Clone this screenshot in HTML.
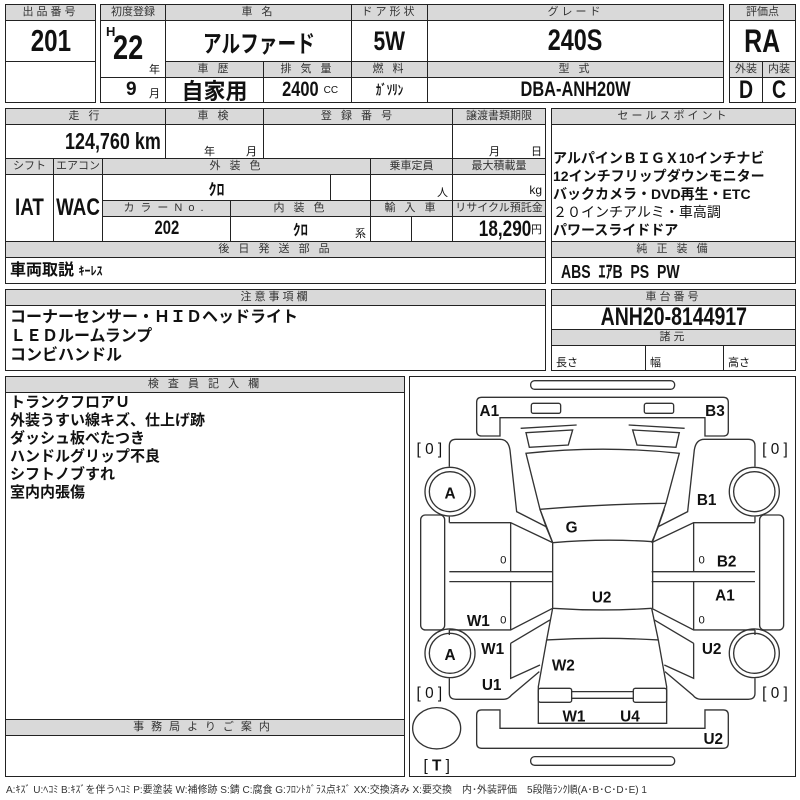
<!DOCTYPE html>
<html><head><meta charset="utf-8"><style>
body{margin:0;width:800px;height:800px;background:#fff;position:relative;overflow:hidden;font-family:"Liberation Sans","Noto Sans CJK JP",sans-serif;color:#111}
.c{position:absolute;border:1px solid #222;box-sizing:border-box;background:#fff;white-space:nowrap;overflow:hidden}
.h{background:#d9d9d9;font-size:11px;text-align:center;line-height:15px;letter-spacing:3px;color:#333}
.v{display:flex;align-items:center;justify-content:center;font-weight:bold;font-family:"Liberation Sans Narrow","Liberation Sans","Noto Sans CJK JP",sans-serif}
.t{position:absolute;white-space:nowrap}
.n{display:inline-block;transform:scaleX(.78)}
.nr{display:inline-block;transform:scaleX(.78);transform-origin:right center}
.jp{font-family:"Liberation Sans","Noto Sans CJK JP",sans-serif;font-weight:bold}
</style></head><body>
<div class="c h" style="left:5px;top:4px;width:91px;height:17px">出品番号</div>
<div class="c v" style="left:5px;top:20px;width:91px;height:42px;font-size:31px"><span class="n">201</span></div>
<div class="c" style="left:5px;top:61px;width:91px;height:42px"></div>
<div class="c h" style="left:100px;top:4px;width:66px;height:17px;letter-spacing:0">初度登録</div>
<div class="c" style="left:100px;top:20px;width:66px;height:58px"><span class="t" style="left:5px;top:3px;font-weight:bold;font-size:13px">H</span><span class="t" style="left:12px;top:8px;font-weight:bold;font-size:34px;transform:scaleX(.8);transform-origin:left">22</span><span class="t" style="left:48px;top:40px;font-size:11px">年</span></div>
<div class="c" style="left:100px;top:77px;width:66px;height:26px"><span class="t" style="left:25px;top:1px;font-weight:bold;font-size:19px">9</span><span class="t" style="left:48px;top:7px;font-size:11px">月</span></div>
<div class="c h" style="left:165px;top:4px;width:187px;height:17px">車 名</div>
<div class="c v jp" style="left:165px;top:20px;width:187px;height:42px;font-size:24px"><span class="n">アルファード</span></div>
<div class="c h" style="left:351px;top:4px;width:77px;height:17px">ドア形状</div>
<div class="c v" style="left:351px;top:20px;width:77px;height:42px;font-size:27px"><span class="n">5W</span></div>
<div class="c h" style="left:427px;top:4px;width:297px;height:17px">グレード</div>
<div class="c v" style="left:427px;top:20px;width:297px;height:42px;font-size:30px"><span class="n">240S</span></div>
<div class="c h" style="left:165px;top:61px;width:99px;height:17px">車 歴</div>
<div class="c h" style="left:263px;top:61px;width:89px;height:17px">排 気 量</div>
<div class="c h" style="left:351px;top:61px;width:77px;height:17px">燃 料</div>
<div class="c h" style="left:427px;top:61px;width:297px;height:17px">型 式</div>
<div class="c v jp" style="left:165px;top:77px;width:99px;height:26px;font-size:22px">自家用</div>
<div class="c v" style="left:263px;top:77px;width:89px;height:26px;font-size:21px"><span class="n">2400</span><span style="font-size:10px;font-weight:normal">CC</span></div>
<div class="c v jp" style="left:351px;top:77px;width:77px;height:26px;font-size:14px"><span class="n">ｶﾞｿﾘﾝ</span></div>
<div class="c v" style="left:427px;top:77px;width:297px;height:26px;font-size:21px"><span class="n">DBA-ANH20W</span></div>
<div class="c h" style="left:729px;top:4px;width:67px;height:17px;letter-spacing:0">評価点</div>
<div class="c v" style="left:729px;top:20px;width:67px;height:42px;font-size:32px"><span class="n">RA</span></div>
<div class="c h" style="left:729px;top:61px;width:34px;height:17px;letter-spacing:0">外装</div>
<div class="c h" style="left:762px;top:61px;width:34px;height:17px;letter-spacing:0">内装</div>
<div class="c v" style="left:729px;top:77px;width:34px;height:26px;font-size:25px"><span class="n">D</span></div>
<div class="c v" style="left:762px;top:77px;width:34px;height:26px;font-size:25px"><span class="n">C</span></div>
<div class="c h" style="left:5px;top:108px;width:161px;height:17px">走 行</div>
<div class="c h" style="left:165px;top:108px;width:99px;height:17px">車 検</div>
<div class="c h" style="left:263px;top:108px;width:190px;height:17px">登 録 番 号</div>
<div class="c h" style="left:452px;top:108px;width:94px;height:17px;letter-spacing:0">譲渡書類期限</div>
<div class="c v" style="left:5px;top:124px;width:161px;height:35px;font-size:23px;justify-content:flex-end;padding-right:4px"><span class="nr">124,760 km</span></div>
<div class="c" style="left:165px;top:124px;width:99px;height:35px"><span class="t" style="left:38px;top:18px;font-size:11px">年</span><span class="t" style="left:80px;top:18px;font-size:11px">月</span></div>
<div class="c" style="left:263px;top:124px;width:190px;height:35px"></div>
<div class="c" style="left:452px;top:124px;width:94px;height:35px"><span class="t" style="left:36px;top:18px;font-size:11px">月</span><span class="t" style="left:78px;top:18px;font-size:11px">日</span></div>
<div class="c h" style="left:5px;top:158px;width:49px;height:17px;letter-spacing:0">シフト</div>
<div class="c h" style="left:53px;top:158px;width:50px;height:17px;letter-spacing:0">エアコン</div>
<div class="c h" style="left:102px;top:158px;width:269px;height:17px">外 装 色</div>
<div class="c h" style="left:370px;top:158px;width:83px;height:17px;letter-spacing:0">乗車定員</div>
<div class="c h" style="left:452px;top:158px;width:94px;height:17px;letter-spacing:0">最大積載量</div>
<div class="c v" style="left:5px;top:174px;width:49px;height:68px;font-size:24px"><span class="n">IAT</span></div>
<div class="c v" style="left:53px;top:174px;width:50px;height:68px;font-size:24px"><span class="n">WAC</span></div>
<div class="c v jp" style="left:102px;top:174px;width:229px;height:27px;font-size:16px">ｸﾛ</div>
<div class="c" style="left:330px;top:174px;width:41px;height:27px"></div>
<div class="c" style="left:370px;top:174px;width:83px;height:27px"><span class="t" style="right:4px;top:9px;font-size:11px">人</span></div>
<div class="c" style="left:452px;top:174px;width:94px;height:27px"><span class="t" style="right:3px;top:8px;font-size:12px">kg</span></div>
<div class="c h" style="left:102px;top:200px;width:129px;height:17px;letter-spacing:6px">カラーNo.</div>
<div class="c h" style="left:230px;top:200px;width:141px;height:17px">内 装 色</div>
<div class="c h" style="left:370px;top:200px;width:83px;height:17px">輸 入 車</div>
<div class="c h" style="left:452px;top:200px;width:94px;height:17px;letter-spacing:0">リサイクル預託金</div>
<div class="c v" style="left:102px;top:216px;width:129px;height:26px;font-size:19px"><span class="n">202</span></div>
<div class="c v jp" style="left:230px;top:216px;width:141px;height:26px;font-size:15px">ｸﾛ<span class="t" style="right:4px;top:8px;font-size:11px;font-weight:normal">系</span></div>
<div class="c" style="left:370px;top:216px;width:42px;height:26px"></div>
<div class="c" style="left:411px;top:216px;width:42px;height:26px"></div>
<div class="c v" style="left:452px;top:216px;width:94px;height:26px;font-size:22px;justify-content:flex-end;padding-right:3px"><span class="nr">18,290</span><span style="font-size:11px;font-weight:normal">円</span></div>
<div class="c h" style="left:5px;top:241px;width:541px;height:17px">後 日 発 送 部 品</div>
<div class="c jp" style="left:5px;top:257px;width:541px;height:27px;font-size:16px;line-height:25px;padding-left:4px">車両取説 <span style="font-size:12px">ｷｰﾚｽ</span></div>
<div class="c h" style="left:551px;top:108px;width:245px;height:17px">セールスポイント</div>
<div class="c jp" style="left:551px;top:124px;width:245px;height:118px;font-size:14px;line-height:18px;padding:24px 0 0 1px">アルパインＢＩＧＸ10インチナビ<br>12インチフリップダウンモニター<br>バックカメラ・DVD再生・ETC<br><span style="font-weight:normal">２０インチアルミ・車高調</span><br>パワースライドドア</div>
<div class="c h" style="left:551px;top:241px;width:245px;height:17px">純 正 装 備</div>
<div class="c v" style="left:551px;top:257px;width:245px;height:27px;font-size:18px;justify-content:flex-start;padding-left:9px"><span class="n" style="transform-origin:left">ABS&nbsp; ｴｱB&nbsp; PS&nbsp; PW</span></div>
<div class="c h" style="left:5px;top:289px;width:541px;height:17px">注意事項欄</div>
<div class="c jp" style="left:5px;top:305px;width:541px;height:66px;font-size:16px;line-height:19px;padding:2px 0 0 4px">コーナーセンサー・ＨＩＤヘッドライト<br>ＬＥＤルームランプ<br>コンビハンドル</div>
<div class="c h" style="left:551px;top:289px;width:245px;height:17px">車台番号</div>
<div class="c v" style="left:551px;top:305px;width:245px;height:25px;font-size:25px"><span class="n">ANH20-8144917</span></div>
<div class="c h" style="left:551px;top:329px;width:245px;height:17px">諸元</div>
<div class="c" style="left:551px;top:345px;width:95px;height:26px;font-size:11px;padding:8px 0 0 4px">長さ</div>
<div class="c" style="left:645px;top:345px;width:79px;height:26px;font-size:11px;padding:8px 0 0 4px">幅</div>
<div class="c" style="left:723px;top:345px;width:73px;height:26px;font-size:11px;padding:8px 0 0 4px">高さ</div>
<div class="c h" style="left:5px;top:376px;width:400px;height:17px">検 査 員 記 入 欄</div>
<div class="c jp" style="left:5px;top:392px;width:400px;height:328px;font-size:15px;line-height:18px;padding:1px 0 0 4px">トランクフロアＵ<br>外装うすい線キズ、仕上げ跡<br>ダッシュ板べたつき<br>ハンドルグリップ不良<br>シフトノブすれ<br>室内内張傷</div>
<div class="c h" style="left:5px;top:719px;width:400px;height:17px;letter-spacing:7px">事務局よりご案内</div>
<div class="c" style="left:5px;top:735px;width:400px;height:42px"></div>
<div class="c" style="left:409px;top:376px;width:387px;height:401px"></div>
<div class="t" style="left:6px;top:781px;font-size:10px;color:#333">A:ｷｽﾞ U:ﾍｺﾐ B:ｷｽﾞを伴うﾍｺﾐ P:要塗装 W:補修跡 S:錆 C:腐食 G:ﾌﾛﾝﾄｶﾞﾗｽ点ｷｽﾞ XX:交換済み X:要交換　内･外装評価　5段階ﾗﾝｸ順(A･B･C･D･E) 1</div>
<svg style="position:absolute;left:0;top:0" width="800" height="800">
<g transform="translate(400,370) scale(0.3333)" fill="none" stroke="#333" stroke-width="4">
<rect x="392" y="32" width="432" height="26" rx="12"/>
<rect x="392" y="1160" width="432" height="26" rx="12"/>
<path d="M245,82 H970 Q985,82 985,97 V183 Q985,198 970,198 H915 V143 H300 V198 H245 Q230,198 230,183 V97 Q230,82 245,82 Z"/>
<rect x="394" y="100" width="88" height="30" rx="6"/>
<rect x="733" y="100" width="88" height="30" rx="6"/>
<path d="M245,1020 H300 V1075 H915 V1020 H970 Q985,1020 985,1035 V1120 Q985,1135 970,1135 H245 Q230,1135 230,1120 V1035 Q230,1020 245,1020 Z"/>
<path d="M362,175 L530,165 M378,188 L518,180 L505,225 L388,232 Z"/>
<path d="M854,175 L686,165 M838,188 L698,180 L711,225 L828,232 Z"/>
<path d="M378,250 Q609,225 838,250 L798,400 Q609,402 420,418 Z"/>
<path d="M420,418 L458,518 Q609,505 758,515 L798,400"/>
<path d="M458,518 V715 M758,515 V715 M458,715 Q609,725 755,715"/>
<path d="M458,715 L440,810 Q609,800 775,810 L755,715"/>
<path d="M440,810 L415,950 V1060 H800 V950 L775,810"/>
<rect x="415" y="955" width="100" height="42" rx="6"/>
<rect x="700" y="955" width="100" height="42" rx="6"/>
<path d="M515,965 H700 M515,985 H700"/>
<g id="side">
<rect x="62" y="435" width="72" height="345" rx="14"/>
<ellipse cx="150" cy="365" rx="75" ry="73"/><ellipse cx="150" cy="365" rx="62" ry="60"/>
<ellipse cx="150" cy="850" rx="75" ry="73"/><ellipse cx="150" cy="850" rx="62" ry="60"/>
<path d="M148,290 V228 Q148,208 168,208 H300 Q325,208 330,240 L350,425 L438,470 L458,518"/>
<path d="M420,418 L440,475"/>
<path d="M148,458 H332 L458,518 M148,605 H458 M148,635 H458 M148,780 H332 L458,715 M148,458 V440 M148,780 V795 M332,458 V605 M332,635 V780"/>
<path d="M332,820 L450,750 M332,820 V925 L420,885 M148,925 V970 Q148,988 168,988 H310 Q325,988 335,975 L418,905"/>
</g>
<use href="#side" transform="translate(1213,0) scale(-1,1)"/>
<ellipse cx="110" cy="1075" rx="72" ry="62"/>
</g>
<g transform="translate(400,370) scale(0.3333)" font-family="'Liberation Sans Narrow','Liberation Sans',sans-serif" font-weight="bold" font-size="46" fill="#111" text-anchor="middle">
<text x="268" y="138">A1</text><text x="945" y="138">B3</text>
<text x="88" y="252" font-weight="normal">[ 0 ]</text><text x="1125" y="252" font-weight="normal">[ 0 ]</text>
<text x="150" y="385">A</text><text x="920" y="405">B1</text><text x="515" y="487">G</text>
<text x="310" y="580" font-size="34" font-weight="normal">0</text><text x="905" y="580" font-size="34" font-weight="normal">0</text>
<text x="980" y="590">B2</text><text x="605" y="697">U2</text><text x="975" y="692">A1</text>
<text x="235" y="768">W1</text><text x="310" y="760" font-size="34" font-weight="normal">0</text><text x="905" y="760" font-size="34" font-weight="normal">0</text>
<text x="278" y="852">W1</text><text x="150" y="870">A</text><text x="935" y="852">U2</text>
<text x="490" y="902">W2</text><text x="275" y="960">U1</text>
<text x="88" y="984" font-weight="normal">[ 0 ]</text><text x="1125" y="984" font-weight="normal">[ 0 ]</text>
<text x="522" y="1055">W1</text><text x="690" y="1055">U4</text><text x="940" y="1122">U2</text>
<text x="110" y="1202" font-weight="normal">[ <tspan font-weight="bold">T</tspan> ]</text>
</g>
</svg>
</body></html>
